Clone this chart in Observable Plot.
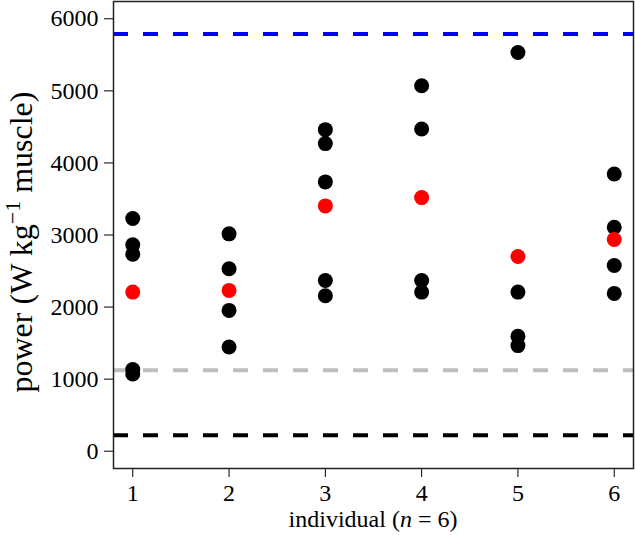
<!DOCTYPE html>
<html><head><meta charset="utf-8">
<script src="https://cdn.jsdelivr.net/npm/d3@7"></script>
<script src="https://cdn.jsdelivr.net/npm/@observablehq/plot@0.6"></script>
<style>body{margin:0;background:#fff}</style>
</head><body><div id="chart"></div>
<script>
const individuals = [1, 2, 3, 4, 5, 6];
const ind1 = [3228, 2864, 2734, 1132, 1071];
const ind2 = [3016, 2531, 1954, 1446];
const ind3 = [4462, 4268, 3737, 2369, 2157];
const ind4 = [5071, 4471, 2369, 2208];
const ind5 = [5533, 2208, 1594, 1465];
const ind6 = [3847, 3108, 2577, 2190];
const means = [2208, 2231, 3404, 3519, 2702, 2938];
const refLines = [5790, 1122, 222];
const refColors = ["#0000ff", "#bebebe", "#000000"];
const xTicks = [1, 2, 3, 4, 5, 6];
const yTicks = [0, 1000, 2000, 3000, 4000, 5000, 6000];
const xTitle = ["individual (", "n", " = 6)"];
const yTitle = ["power (W kg", "\u22121", " muscle)"];

const series = [ind1, ind2, ind3, ind4, ind5, ind6];
const points = series.flatMap((vals, i) => vals.map(v => ({x: individuals[i], y: v})));
const meanPts = means.map((v, i) => ({x: individuals[i], y: v}));

const svg = Plot.plot({
  width: 635, height: 535,
  marginLeft: 113, marginRight: 2, marginTop: 1, marginBottom: 67,
  style: {fontFamily: "'Liberation Serif', serif", fontSize: "24px", background: "white", color: "black"},
  x: {domain: [0.8, 6.2], ticks: xTicks, tickSize: 9, tickPadding: 6, label: null, tickFormat: d3.format("d")},
  y: {domain: [-240, 6240], ticks: yTicks, tickSize: 9, tickPadding: 6, label: null, tickFormat: d3.format("d")},
  marks: [
    ...refLines.map((v, i) => Plot.ruleY([v], {stroke: refColors[i], strokeWidth: 4, strokeDasharray: "15,15"})),
    Plot.dot(points, {x: "x", y: "y", r: 7.5, fill: "black"}),
    Plot.dot(meanPts, {x: "x", y: "y", r: 7.5, fill: "#ff0000"}),
    Plot.frame({stroke: "#222", strokeWidth: 1.5})
  ]
});
document.getElementById("chart").appendChild(svg);

const s = d3.select(svg);
const xt = s.append("text")
  .attr("x", 373).attr("y", 527)
  .attr("text-anchor", "middle")
  .attr("font-size", 24).attr("fill", "black");
xt.append("tspan").text(xTitle[0]);
xt.append("tspan").attr("font-style", "italic").text(xTitle[1]);
xt.append("tspan").text(xTitle[2]);

const yt = s.append("text")
  .attr("transform", "translate(32,242) rotate(-90)")
  .attr("text-anchor", "middle")
  .attr("font-size", 32).attr("fill", "black");
yt.append("tspan").text(yTitle[0]);
yt.append("tspan").attr("font-size", 22).attr("dy", -12).text(yTitle[1]);
yt.append("tspan").attr("dy", 12).text(yTitle[2]);
</script>
</body></html>
